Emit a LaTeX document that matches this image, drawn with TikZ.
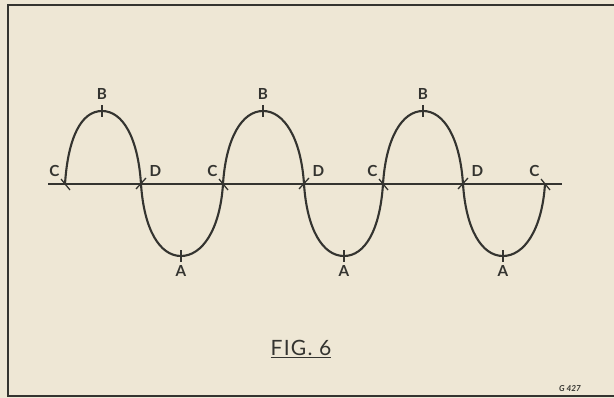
\documentclass[tikz,border=0pt]{standalone}
\usepackage{fontspec}
\setmainfont{Lato}
\usetikzlibrary{positioning}
\definecolor{paper}{RGB}{238,231,213}
\definecolor{ink}{RGB}{52,52,48}

\begin{document}
\begin{tikzpicture}[x=0.03cm, y=-0.03cm,
    wave/.style={ink, line width=1.8pt, line cap=round},
    axisline/.style={ink, line width=1.1pt},
    tickline/.style={ink, line width=1.1pt},
    frameline/.style={ink, line width=2pt},
    lbl/.style={text=ink, font=\fontsize{13}{15}\selectfont\bfseries, inner sep=0pt},
    caption/.style={text=ink, font=\fontsize{18}{20}\selectfont\addfontfeature{LetterSpace=6}, inner sep=0pt}
  ]
    \fill[paper] (0,0) rectangle (614,398);
    \useasboundingbox (0,0) rectangle (614,398);
    % frame
    \draw[frameline] (616,5) -- (8,5) -- (8,396) -- (616,396);
    % axis
    \coordinate (axl) at (48,184);
    \coordinate (axr) at (562,184);
    \draw[axisline] (axl) -- (axr);
    % points on the wave
    \foreach \n/\x in {1/65, 2/223, 3/383, 4/545} \coordinate (c\n) at (\x,184);
    \foreach \n/\x in {1/141, 2/304, 3/463} \coordinate (d\n) at (\x,184);
    \foreach \n/\x in {1/102, 2/263, 3/423} \coordinate (b\n) at (\x,111);
    \foreach \n/\x in {1/181, 2/344, 3/503} \coordinate (a\n) at (\x,256);
    % wave
    \foreach \i/\j in {1/2, 2/3, 3/4}
      \draw[wave] (c\i) .. controls +(3,-46) and +(-21,0) .. (b\i)
                        .. controls +(21,0) and +(-3,-46) .. (d\i)
                        .. controls +(3,46) and +(-21,0) .. (a\i)
                        .. controls +(21,0) and +(-3,46) .. (c\j);
    % ticks
    \foreach \i in {1,2,3} {
      \draw[tickline] (b\i) ++(0,-6) -- ++(0,12);
      \draw[tickline] (a\i) ++(0,-6) -- ++(0,12);
      \draw[tickline] (d\i) ++(-5,5) -- ++(10,-11);
    }
    \foreach \i in {1,2,3,4}
      \draw[tickline] (c\i) ++(-4,-5) -- ++(9,11);
    % labels
    \foreach \i in {1,2,3} {
      \node[lbl, above=0.34cm of b\i] (lb\i) {B};
      \node[lbl, below=0.27cm of a\i] (la\i) {A};
      \node[lbl, above right=0.22cm and 0.25cm of d\i] (ld\i) {D};
    }
    \foreach \i in {1,2,3,4}
      \node[lbl, above left=0.22cm and 0.16cm of c\i] (lc\i) {C};
    \node[caption] (fig) at (301,349) {\underline{FIG. 6}};
    \node[text=ink, font=\scriptsize\bfseries\itshape, inner sep=0pt] (code) at (570,389) {G 427};
\end{tikzpicture}
\end{document}
